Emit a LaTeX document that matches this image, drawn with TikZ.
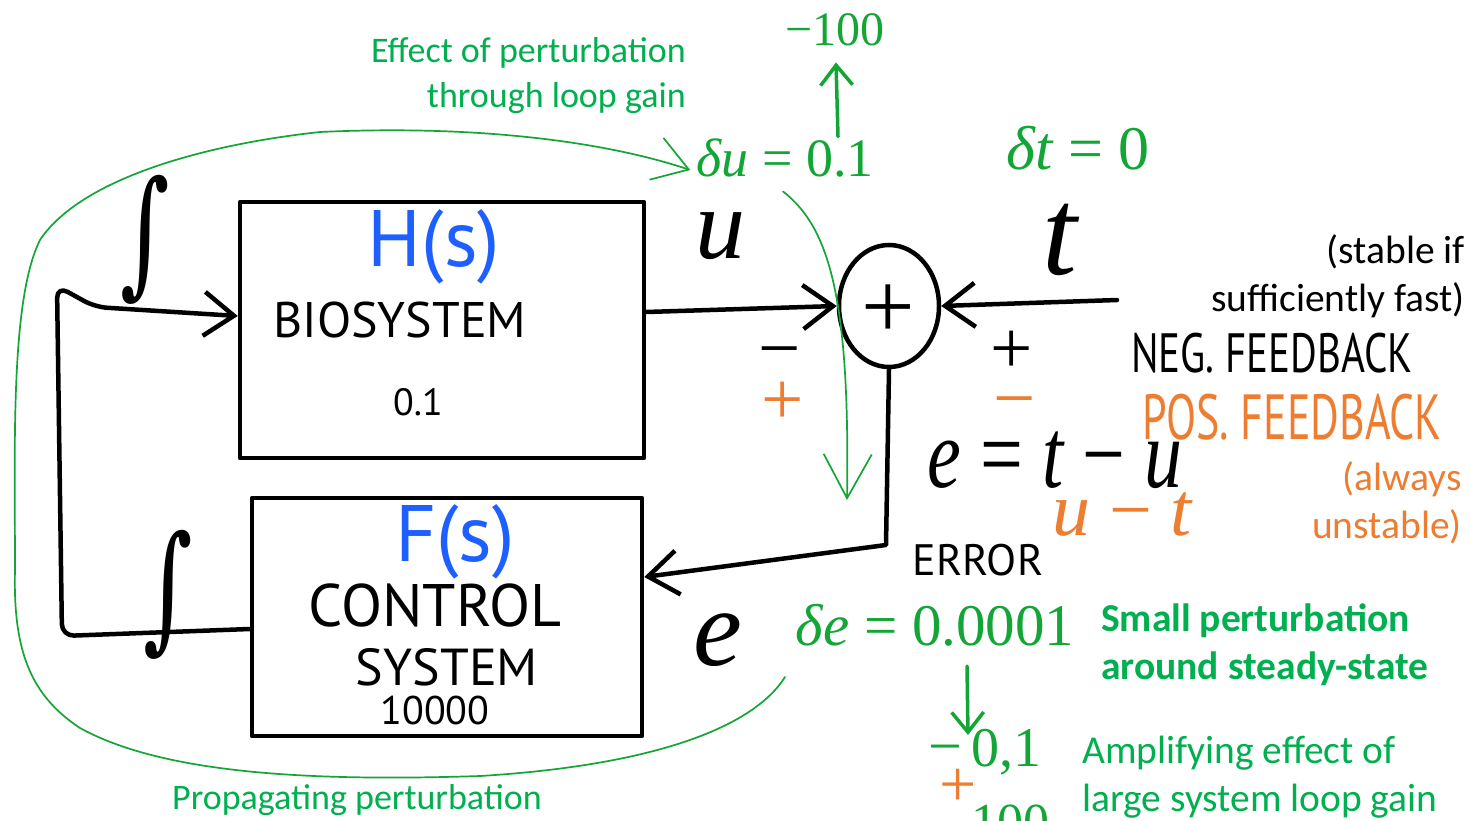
\documentclass[tikz,border=0pt]{standalone}
\usepackage{fontspec}
\setmainfont{Carlito}
\newfontfamily\hand{PT Sans}
\newfontfamily\mfont{Liberation Serif}
\newfontfamily\symfont{DejaVu Serif}
\usetikzlibrary{arrows.meta,shapes.geometric,calc}
\definecolor{hgreen}{RGB}{20,165,55}
\definecolor{tgreen}{RGB}{0,176,80}
\definecolor{hblue}{RGB}{30,95,255}
\definecolor{horange}{RGB}{237,125,49}
\newcommand{\fs}[1]{\fontsize{#1}{#1}\selectfont}
\newcommand{\tallbox}[2]{\scalebox{1}[#1]{#2}}
\newcommand{\vi}[1]{{\itshape #1}}
\tikzset{
  wire/.style={line width=4.5pt, line cap=round, line join=round},
  blk/.style={draw, line width=4.5pt, rectangle, line join=round},
  barb/.style={-{Straight Barb[length=30pt,width=44pt]}},
  thinline/.style={hgreen, line width=1.7pt, line cap=round},
  garrow/.style={hgreen, line width=3.5pt, line cap=round, -{Straight Barb[length=20pt,width=32pt]}},
  typedL/.style={font=\fontsize{36}{45}\selectfont, inner sep=0pt},
  typedR/.style={font=\fontsize{39.5}{48}\selectfont, inner sep=0pt},
  typedB/.style={font={\fontsize{39.5}{48}\selectfont\bfseries}, inner sep=0pt},
  hw/.style={font=\hand\fs{#1}, inner sep=0pt},
  mth/.style={font=\mfont\fs{#1}, inner sep=0pt},
}
\begin{document}
\begin{tikzpicture}[x=1pt,y=-1pt]
\useasboundingbox (0,0) rectangle (1471,821);
\fill[white] (0,0) rectangle (1471,821);

% blocks
\node[blk, minimum width=404pt, minimum height=256pt] (H) at (442,330) {};
\node[blk, minimum width=390pt, minimum height=238pt] (F) at (447,617) {};
\node[draw, ellipse, line width=4.5pt, minimum width=100pt, minimum height=122pt, inner sep=0pt] (S) at (889,306) {};
\node[mth=95] (plus) at (888,312) {+};

% block texts
\node[hw=80, text=hblue] (Hs) at (434,247) {H(s)};
\node[hw=50] (bio) at (400,320) {BIOSYSTEM};
\node[hw=38] (g1) at (418,402) {0.1};
\node[hw=80, text=hblue] (Fs) at (455,542) {F(s)};
\node[hw=60] (ctl) at (435,605) {CONTROL};
\node[hw=52] (sys) at (447,667) {SYSTEM};
\node[hw=40] (g2) at (435,710) {10000};

% cut marks
\node[font=\symfont\fs{95}, inner sep=0pt] (cut1) at (145,240) {\tallbox{1.45}{∫}};
\node[font=\symfont\fs{95}, inner sep=0pt] (cut2) at (168,595) {\tallbox{1.45}{∫}};

% coordinates for free ends
\coordinate (tin) at (1117,300);
\coordinate (ecorner) at (886,545);

% wires
\draw[wire, barb] ($(H.east)+(0,-18)$) -- (S.west);
\draw[wire, barb] (tin) -- (S.east);
\draw[wire, barb] (S.south) -- (ecorner) -- ($(F.east)+(0,-40)$);
\draw[wire, barb, rounded corners=12pt] ($(F.west)+(0,12)$) -- (62,636) -- (57,286) -- (95,307) -- ($(H.west)+(0,-14)$);

% signal labels
\node[mth=100] (ulab) at (720,236) {\vi{u}};
\node[mth=125] (tlab) at (1060,240) {\vi{t}};
\node[mth=75] (m1) at (780,360) {−};
\node[mth=75, text=horange] (p1) at (783,403) {+};
\node[mth=75] (p2) at (1012,352) {+};
\node[mth=75, text=horange] (m2) at (1015,410) {−};
\node[hw=41] (neg) at (1272,353) {\tallbox{1.35}{NEG. FEEDBACK}};
\node[hw=44, text=horange] (pos) at (1292,417) {\tallbox{1.45}{POS. FEEDBACK}};
\node[mth=76] (eq) at (1055,460) {\tallbox{1.3}{\vi{e} = \vi{t} − \vi{u}}};
\node[mth=76, text=horange] (eq2) at (1122,515) {\vi{u} − \vi{t}};
\node[hw=44] (err) at (978,560) {ERROR};
\node[mth=110] (elab) at (718,640) {\vi{e}};

% green perturbation annotations
\node[mth=48, text=hgreen] (n100) at (835,30) {−100};
\node[mth=54, text=hgreen] (du) at (785,158) {\vi{δu} = 0.1};
\node[mth=62, text=hgreen] (dt) at (1078,148) {\vi{δt} = 0};
\node[mth=59, text=hgreen] (de) at (935,625) {\vi{δe} = 0.0001};
\node[mth=60, text=hgreen] (mm) at (945,756) {−};
\node[mth=56, text=hgreen] (m01) at (1006,752) {0,1};
\node[mth=66, text=horange] (p01) at (958,788) {+};
\node[mth=52, text=hgreen] (h100) at (1010,822) {100};

\draw[garrow] ($(du.north)+(53,-2)$) -- ($(n100.south)+(1,16)$);
\draw[garrow] ($(de.south)+(32,20)$) -- (968,735);

% thin green loop lines
\coordinate (loopstart) at (785,677);
\draw[thinline, -{Straight Barb[length=34pt,width=44pt]}] (loopstart)
  .. controls (755,725) and (660,765) .. (480,776)
  .. controls (300,782) and (160,772) .. (80,728)
  .. controls (30,695) and (13,650) .. (15,570)
  .. controls (15,450) and (10,300) .. (40,240)
  .. controls (80,180) and (200,145) .. (320,132)
  .. controls (470,125) and (600,140) .. ($(du.west)+(-6,12)$);
\draw[thinline, -{Straight Barb[length=44pt,width=48pt]}] ($(du.south)+(-2,14)$)
  .. controls (830,228) and (850,300) .. (847,500);

% typed comments
\node[typedL, text=tgreen, anchor=east, align=right] (eff) at (686,76) {Effect of perturbation\\through loop gain};
\node[typedR, anchor=east, align=right] (stab) at (1465,276) {(stable if\\sufficiently fast)};
\node[typedR, text=horange, anchor=east, align=right] (alw) at (1462,503) {(always\\unstable)};
\node[typedB, text=tgreen, anchor=west, align=left] (small) at (1101,645) {Small perturbation\\around steady-state};
\node[typedR, text=tgreen, anchor=west, align=left] (ampl) at (1082,777) {Amplifying effect of\\large system loop gain};
\node[typedL, text=tgreen] (prop) at (357,800) {Propagating perturbation};
\end{tikzpicture}
\end{document}
